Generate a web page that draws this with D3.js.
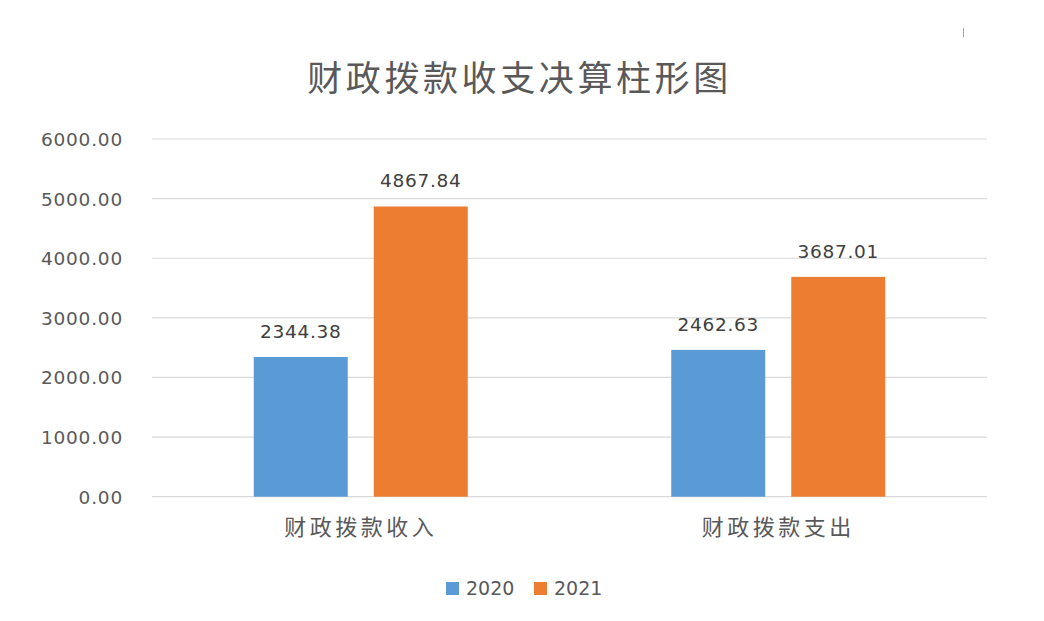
<!DOCTYPE html>
<html><head><meta charset="utf-8">
<script src="https://cdn.jsdelivr.net/npm/d3@7"></script>
<style>body{margin:0;background:#fff;} svg{display:block;}</style>
</head><body>
<svg id="c" width="1044" height="621"></svg>
<script>
const title = "财政拨款收支决算柱形图";
const categories = ["财政拨款收入", "财政拨款支出"];
const seriesNames = ["2020", "2021"];
const values2020 = [2344.38, 2462.63];
const values2021 = [4867.84, 3687.01];
const yTicks = [0, 1000, 2000, 3000, 4000, 5000, 6000];
const colors = ["#5b9bd5", "#ed7d31"];

const svg = d3.select("#c");
const W = 1044, H = 621;
svg.append("rect").attr("width", W).attr("height", H).attr("fill", "#fff");
const plotLeft = 152, plotRight = 987, plotTop = 139, plotBottom = 496.7;

const x = d3.scaleBand().domain(categories).range([plotLeft, plotRight]).paddingInner(0).paddingOuter(0);
const inner = d3.scaleBand().domain(seriesNames).range([0, 214]).paddingInner(26/120).paddingOuter(0);
const y = d3.scaleLinear().domain([0, 6000]).range([plotBottom, plotTop]);

const font = "'DejaVu Sans', Verdana, sans-serif";
const cjk = "'Noto Sans CJK SC', sans-serif";
const textColor = "#595959";

// gridlines
const g = svg.append("g");
g.selectAll("line.grid").data(yTicks).join("line")
  .attr("x1", plotLeft).attr("x2", plotRight)
  .attr("y1", d => y(d)).attr("y2", d => y(d))
  .attr("stroke", "#d9d9d9").attr("stroke-width", 1.2);

// y axis labels
const yAxis = d3.axisLeft(y).tickValues(yTicks).tickFormat(d3.format(".2f")).tickSize(0).tickPadding(0);
const ya = svg.append("g").attr("transform", `translate(123,0)`).call(yAxis);
ya.select(".domain").remove();
ya.selectAll("text").attr("font-family", font).attr("font-size", 18.5).attr("fill", textColor)
  .attr("letter-spacing", 0.8).attr("dy", "0.35em");

// bars
const data = categories.map((c, i) => ({cat: c, vals: [values2020[i], values2021[i]]}));
const grp = svg.append("g");
data.forEach(d => {
  const gx = x(d.cat) + (x.bandwidth() - 214) / 2;
  d.vals.forEach((v, j) => {
    const bx = gx + inner(seriesNames[j]);
    grp.append("rect").attr("x", bx).attr("y", y(v))
      .attr("width", inner.bandwidth()).attr("height", y(0) - y(v))
      .attr("fill", colors[j]);
    grp.append("text").attr("x", bx + inner.bandwidth() / 2).attr("y", y(v) - 19)
      .attr("text-anchor", "middle").attr("font-family", font).attr("font-size", 18.5)
      .attr("letter-spacing", 0.7).attr("fill", "#404040").text(d3.format(".2f")(v));
  });
});

// x axis labels
const xAxis = d3.axisBottom(x).tickSize(0).tickPadding(0);
const xa = svg.append("g").attr("transform", `translate(0,${plotBottom})`).call(xAxis);
xa.select(".domain").remove();
xa.selectAll("text").attr("font-family", cjk).attr("font-size", 22).attr("fill", textColor)
  .attr("letter-spacing", 3.5).attr("y", 31).attr("dy", "0.35em");

// title
svg.append("text").attr("x", 519.5).attr("y", 79).attr("dy", "0.35em")
  .attr("text-anchor", "middle").attr("font-family", cjk).attr("font-size", 35)
  .attr("letter-spacing", 3.6).attr("fill", textColor).text(title);

// legend
const legendX = [446, 534];
seriesNames.forEach((s, i) => {
  svg.append("rect").attr("x", legendX[i]).attr("y", 582).attr("width", 13).attr("height", 13).attr("fill", colors[i]);
  svg.append("text").attr("x", legendX[i] + 20).attr("y", 588.5).attr("dy", "0.35em")
    .attr("font-family", font).attr("font-size", 19).attr("fill", textColor).text(s);
});

// small mark top right
svg.append("line").attr("x1", 963.5).attr("x2", 963.5).attr("y1", 28).attr("y2", 37)
  .attr("stroke", "#a6a6a6").attr("stroke-width", 1);
</script>
</body></html>
